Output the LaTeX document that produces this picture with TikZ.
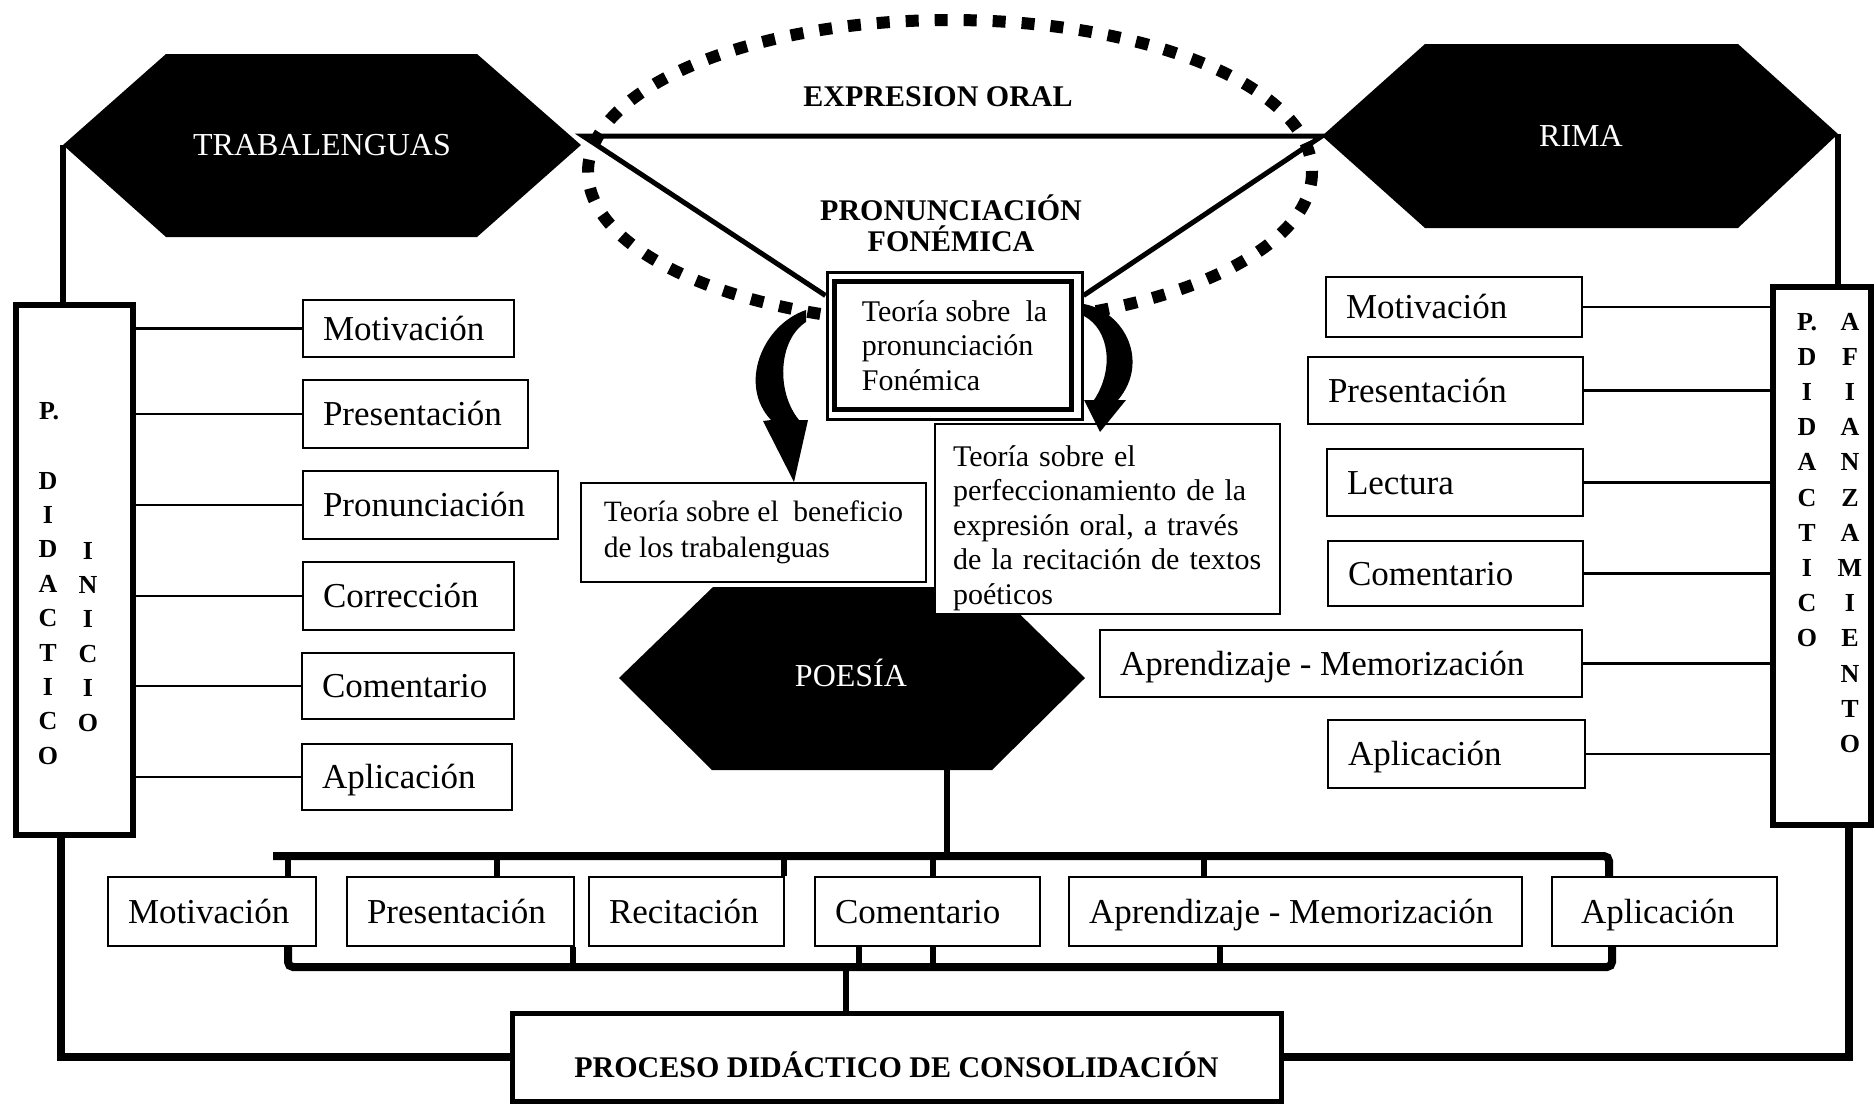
\documentclass[tikz,border=0pt]{standalone}
\usepackage{fontspec}
\setmainfont{Liberation Serif}
\usetikzlibrary{calc}
\newcommand\fsz[2]{\fontsize{#1}{#2}\selectfont}
\newcommand\stp[6]{\node[stepbx, minimum width=#4pt-#2pt, minimum height=#5pt-#3pt] (#1) at ({(#2+#4)/2},{(#3+#5)/2}) {\makebox[\dimexpr#4pt-#2pt-40pt\relax][l]{#6}};}
\begin{document}
\begin{tikzpicture}[x=1pt,y=-1pt,
  stepbx/.style={draw, line width=2.4pt, fill=white, inner xsep=20pt, inner ysep=0pt, font=\fsz{35}{40}, text height=23pt, text depth=0pt},
  conn/.style={line width=2.2pt},
  loopln/.style={line width=6.5pt},
  bigloop/.style={line width=8pt, line join=miter},
  bar/.style={line width=8pt},
  vconn/.style={line width=6pt},
  hexlbl/.style={text=white, font=\fsz{32}{36}, text height=21pt, text depth=0pt},
  lett/.style={font=\bfseries\fsz{26}{30}, inner sep=0pt, text height=18pt, text depth=0pt},
  tbox/.style={draw, line width=2.4pt, fill=white, align=left},
]
\useasboundingbox (0,0) rectangle (1875,1104);

% dotted ellipse
\draw[line width=12pt, dash pattern=on 13pt off 16pt] (950,172) ellipse [x radius=362, y radius=152];

% hexagons
\coordinate (trabW) at (63,145);
\coordinate (trabE) at (581,145);
\fill (trabW) -- (166,54) -- (477,54) -- (trabE) -- (477,237) -- (166,237) -- cycle;
\node[hexlbl] (trab) at (322,145) {TRABALENGUAS};

\coordinate (rimaW) at (1322,136);
\coordinate (rimaE) at (1838,134);
\fill (rimaW) -- (1425,44) -- (1738,44) -- (rimaE) -- (1738,228) -- (1425,228) -- cycle;
\node[hexlbl] (rima) at (1581,136) {RIMA};

\coordinate (poeW) at (619,678);
\coordinate (poeE) at (1085,678);
\fill (poeW) -- (713,587) -- (992,587) -- (poeE) -- (992,770) -- (712,770) -- cycle;
\node[hexlbl] (poesia) at (851,676) {POESÍA};
\coordinate (poeS) at (947,770);

% double box
\node[draw, line width=3pt, fill=white, minimum width=255pt, minimum height=147pt,
      align=left, font=\fsz{30}{34.5}] (dbl) at (954.5,345.5)
      {Teoría sobre\ \ la\\ pronunciación\\ Fonémica};
\draw[line width=5pt] ([xshift=9pt,yshift=-11pt]dbl.north west) rectangle ([xshift=-12pt,yshift=11pt]dbl.south east);

% triangle
\coordinate (triL) at (583,136);
\coordinate (triR) at (1322,136);
\draw[line width=5pt, line join=miter] ([yshift=-25pt]dbl.north west) -- (triL) -- (triR) -- ([yshift=-25pt]dbl.north east);

\node[font=\bfseries\fsz{30}{34}] (expr) at (938,97) {EXPRESION ORAL};
\node[font=\bfseries\fsz{30}{31}, align=center] (pron) at (951,223) {PRONUNCIACIÓN\\FONÉMICA};

% theory boxes
\node[tbox, minimum width=345pt, minimum height=99pt, font=\fsz{29.5}{35.5}] (tleft) at (753.5,532.5)
  {Teoría sobre el\ \ beneficio\\de los trabalenguas};
\node[tbox, minimum width=345pt, minimum height=186pt, inner xsep=18pt, text width=309pt, font=\fsz{30}{34.5}] (tright) at (1107.5,519)
  {\makebox[309pt][s]{\rule{0pt}{39pt}Teoría sobre el}\\
   \makebox[309pt][s]{perfeccionamiento de la}\\
   \makebox[309pt][s]{expresión oral, a través}\\
   \makebox[309pt][s]{de la recitación de textos}\\
   poéticos};

% curved block arrows
\fill (806,310) .. controls (762,325) and (738,385) .. (771,420) -- (763,421) -- (794,482) -- (808,420) -- (799,420) .. controls (776,392) and (778,340) .. (806,322) -- cycle;
\fill (1084,304) .. controls (1125,312) and (1150,362) .. (1118,400) -- (1126,400) -- (1100,432) -- (1084,400) -- (1094,400) .. controls (1114,370) and (1110,330) .. (1084,316) -- cycle;

% left side box
\node[draw, line width=6pt, minimum width=117pt, minimum height=530pt] (lbox) at (74.5,570) {};
\node[lett, anchor=west] (lP) at (39,410) {P.};
\foreach \l [count=\i] in {D,I,D,A,C,T,I,C,O}
  \node[lett] (lA\i) at (48,{480+(\i-1)*34.4}) {\l};
\foreach \l [count=\i] in {I,N,I,C,I,O}
  \node[lett] (lB\i) at (88,{550+(\i-1)*34.4}) {\l};

% right side box
\node[draw, line width=6pt, minimum width=98pt, minimum height=538pt] (rbox) at (1822,556) {};
\foreach \l [count=\i] in {P.,D,I,D,A,C,T,I,C,O}
  \node[lett] (rA\i) at (1807,{321+(\i-1)*35.2}) {\l};
\foreach \l [count=\i] in {A,F,I,A,N,Z,A,M,I,E,N,T,O}
  \node[lett] (rB\i) at (1850,{321+(\i-1)*35.2}) {\l};

% left steps
\stp{lm}{303}{300}{514}{357}{Motivación}
\stp{lp}{303}{380}{528}{448}{Presentación}
\stp{lpr}{303}{471}{558}{539}{Pronunciación}
\stp{lc}{303}{562}{514}{630}{Corrección}
\stp{lco}{302}{653}{514}{719}{Comentario}
\stp{la}{302}{744}{512}{810}{Aplicación}
\foreach \n in {lm,lp,lpr,lc,lco,la}
  \draw[conn] (lbox.east |- \n.west) -- (\n.west);

% right steps
\stp{rm}{1326}{277}{1582}{337}{Motivación}
\stp{rp}{1308}{357}{1583}{424}{Presentación}
\stp{rl}{1327}{449}{1583}{516}{Lectura}
\stp{rc}{1328}{541}{1583}{606}{Comentario}
\stp{rap}{1100}{630}{1582}{697}{Aprendizaje - Memorización}
\stp{ra}{1328}{720}{1585}{788}{Aplicación}
\foreach \n in {rm,rp,rl,rc,rap,ra}
  \draw[conn] (\n.east) -- (rbox.west |- \n.east);

% bottom steps
\stp{bm}{108}{877}{316}{946}{Motivación}
\stp{bp}{347}{877}{574}{946}{Presentación}
\stp{br}{589}{877}{784}{946}{Recitación}
\stp{bc}{815}{877}{1040}{946}{Comentario}
\stp{bap}{1069}{877}{1522}{946}{Aprendizaje - Memorización}
\stp{ba}{1552}{877}{1777}{946}{\hspace{9pt}Aplicación}

% process box
\node[draw, line width=5pt, minimum width=769pt, minimum height=88pt, font=\bfseries\fsz{30}{34},
      text height=40pt, text depth=0pt] (proc) at (896.5,1057) {PROCESO DIDÁCTICO DE CONSOLIDACIÓN};

% bars
\draw[bar, rounded corners=5pt] (273,856) -- (1609,856) -- (1609,0 |- ba.north);
\foreach \n/\x in {bm/288, bp/497, br/784, bc/933, bap/1204}
  \draw[vconn] (\x,856) -- (\x,0 |- \n.north);
\draw[bar, rounded corners=5pt] (288,0 |- bm.south) -- (288,967) -- (1612,967) -- (1612,0 |- ba.south);
\foreach \n/\x in {bp/573, bc/859, bc/933, bap/1220}
  \draw[vconn] (\x,0 |- \n.south) -- (\x,967);
\draw[vconn] (poeS) -- (poeS |- 0,856);
\draw[vconn] (846,967) -- (846,0 |- proc.north);

% outer loop
\draw[loopln] (trabW) -- (trabW |- lbox.north);
\draw[loopln] (rimaE) -- (rimaE |- rbox.north);
\coordinate (lloop) at ($(lbox.south)+(-13.5,0)$);
\coordinate (rloop) at ($(rbox.south)+(27,0)$);
\draw[bigloop] (lloop) |- (proc.west);
\draw[bigloop] (rloop) |- (proc.east);
\end{tikzpicture}
\end{document}
